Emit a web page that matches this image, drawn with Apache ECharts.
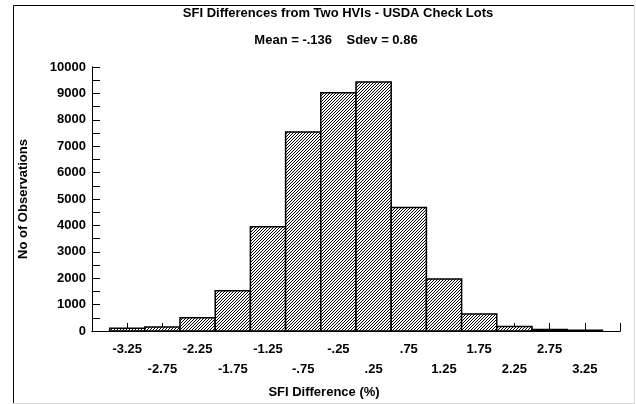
<!DOCTYPE html>
<html>
<head>
<meta charset="utf-8">
<script src="https://cdn.jsdelivr.net/npm/echarts@6/dist/echarts.min.js"></script>
<style>
  html, body { margin: 0; padding: 0; background: #fff; }
  #main { width: 636px; height: 404px; }
</style>
</head>
<body>
<div id="main"></div>
<script>
// bin centres (x tick labels) and observation counts
const binLabels = ['-3.25', '-2.75', '-2.25', '-1.75', '-1.25', '-.75', '-.25',
  '.25', '.75', '1.25', '1.75', '2.25', '2.75', '3.25'];
const counts = [100, 150, 500, 1520, 3950, 7540, 9020, 9430, 4680, 1970, 640, 170, 55, 30];

const font = 'Liberation Sans';

// diagonal hatch used for the bars
const hatch = document.createElement('canvas');
hatch.width = 3;
hatch.height = 3;
const g = hatch.getContext('2d');
g.fillStyle = '#fff';
g.fillRect(0, 0, 3, 3);
g.fillStyle = '#000';
for (let i = 0; i < 3; i++) {
  g.fillRect(i, 2 - i, 1, 1);
}

const chart = echarts.init(document.getElementById('main'), null, { renderer: 'canvas' });

const xMax = binLabels.length + 1;

// frame axis: line (and labels) only
function xFrame(pos, labels) {
  return {
    type: 'value', position: pos, min: 0, max: xMax, interval: 1,
    axisLine: { show: true, lineStyle: { color: '#000', width: 1 } },
    axisTick: { show: false },
    splitLine: { show: false },
    axisLabel: labels || { show: false }
  };
}
// tick axis: moved 4px into the plot, ticks pointing back to the frame
function xTicks(pos) {
  return {
    type: 'value', position: pos, offset: -4, min: 0, max: xMax, interval: 1,
    axisLine: { show: false },
    axisTick: { show: true, length: 4, lineStyle: { color: '#000', width: 1 } },
    splitLine: { show: false },
    axisLabel: { show: false }
  };
}
function yFrame(pos, extra) {
  return Object.assign({
    type: 'value', position: pos, min: 0, max: 10000, interval: 1000,
    axisLine: { show: true, lineStyle: { color: '#000', width: 1 } },
    axisTick: { show: false },
    splitLine: { show: false },
    axisLabel: { show: false }
  }, extra || {});
}
function yTicks(pos) {
  return {
    type: 'value', position: pos, offset: -4, min: 0, max: 10000, interval: 1000,
    axisLine: { show: false },
    axisTick: { show: true, length: 4, lineStyle: { color: '#000', width: 1 } },
    minorTick: { show: true, splitNumber: 2, length: 4, lineStyle: { color: '#000', width: 1 } },
    splitLine: { show: false },
    axisLabel: { show: false }
  };
}

const option = {
  animation: false,
  backgroundColor: '#fff',
  grid: { left: 92, top: 67, right: 16, bottom: 73 },
  xAxis: [
    xFrame('bottom', {
      margin: 8,
      fontFamily: font,
      fontWeight: 'bold',
      fontSize: 13,
      lineHeight: 20,
      color: '#000',
      formatter: function (v) {
        const i = Math.round(v) - 1;
        if (i < 0 || i >= binLabels.length) return '';
        return i % 2 ? '\n' + binLabels[i] : binLabels[i];
      }
    }),
    xTicks('bottom'),
    xFrame('top'),
    xTicks('top')
  ],
  yAxis: [
    yFrame('left', {
      axisLabel: {
        margin: 6, fontFamily: font, fontWeight: 'bold', fontSize: 13, color: '#000',
        formatter: function (v) { return String(v); }
      },
      name: 'No of Observations',
      nameLocation: 'middle',
      nameGap: 62,
      nameTextStyle: { fontFamily: font, fontWeight: 'bold', fontSize: 13, color: '#000' }
    }),
    yTicks('left'),
    yFrame('right'),
    yTicks('right')
  ],
  series: [{
    type: 'custom',
    xAxisIndex: 0,
    yAxisIndex: 0,
    data: counts.map(function (c, i) { return [i + 1, c]; }),
    renderItem: function (params, api) {
      const x = api.value(0);
      const top = api.coord([x - 0.5, api.value(1)]);
      const bottom = api.coord([x + 0.5, 0]);
      return {
        type: 'rect',
        shape: { x: top[0], y: top[1], width: bottom[0] - top[0], height: bottom[1] - top[1] },
        style: { fill: { image: hatch, repeat: 'repeat' }, stroke: '#000', lineWidth: 1.5 }
      };
    }
  }],
  graphic: [
    { type: 'polyline', shape: { points: [[13.5, 403], [13.5, 5.5], [634, 5.5]] },
      style: { stroke: '#000', lineWidth: 1, fill: null } },
    { type: 'polyline', shape: { points: [[634.5, 5.5], [634.5, 403.5], [13.5, 403.5]] },
      style: { stroke: '#d8d8d8', lineWidth: 1, fill: null } },
    { type: 'text', x: 338, y: 13,
      style: { text: 'SFI Differences from Two HVIs - USDA Check Lots', align: 'center', verticalAlign: 'middle',
        font: 'bold 13px "Liberation Sans"', fill: '#000' } },
    { type: 'text', x: 336, y: 40,
      style: { text: 'Mean = -.136    Sdev = 0.86', align: 'center', verticalAlign: 'middle',
        font: 'bold 13px "Liberation Sans"', fill: '#000' } },
    { type: 'text', x: 324, y: 392,
      style: { text: 'SFI Difference (%)', align: 'center', verticalAlign: 'middle',
        font: 'bold 13px "Liberation Sans"', fill: '#000' } }
  ]
};

chart.setOption(option);
</script>
</body>
</html>
